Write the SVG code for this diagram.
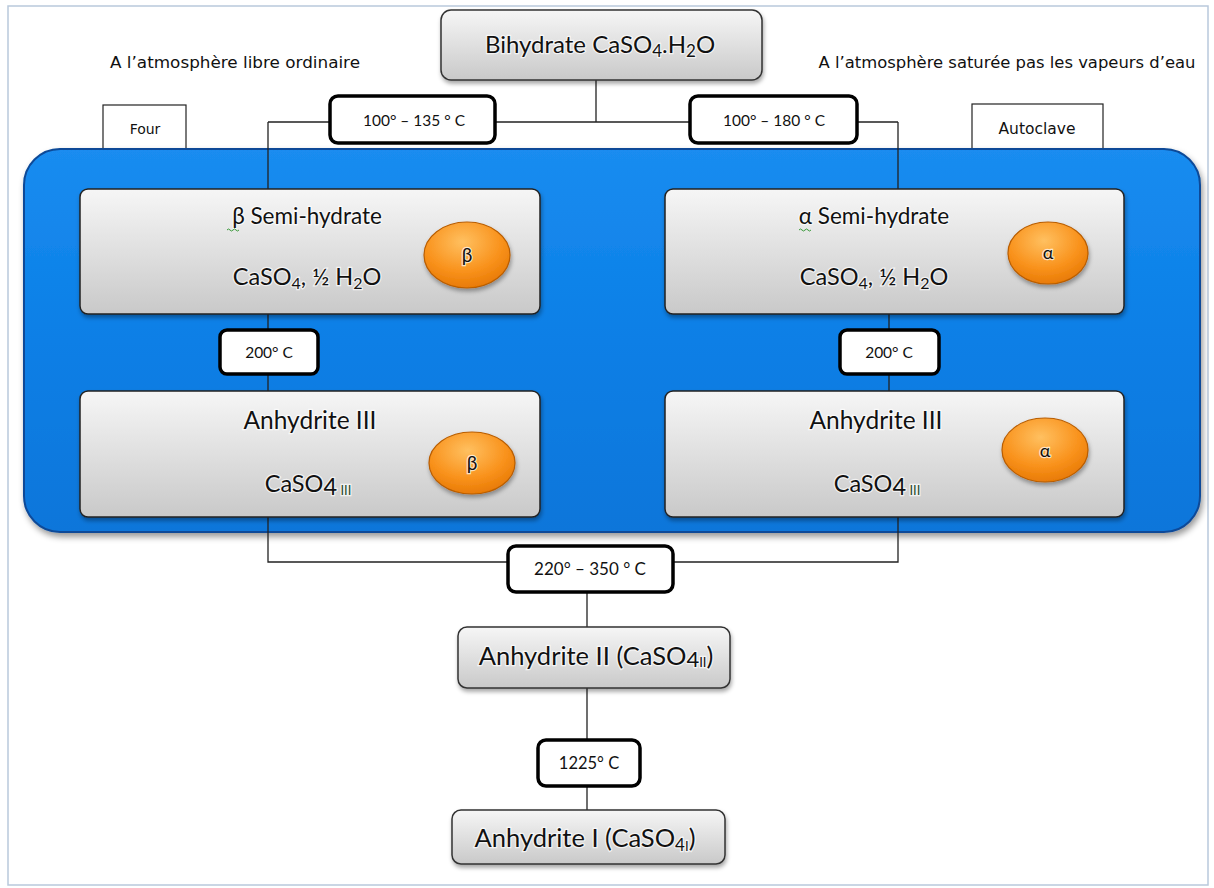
<svg xmlns="http://www.w3.org/2000/svg" width="1214" height="888" viewBox="0 0 1214 888">
<defs>
<linearGradient id="gray" x1="0" y1="0" x2="0" y2="1">
<stop offset="0" stop-color="#f6f6f6"/>
<stop offset="1" stop-color="#c9c9c9"/>
</linearGradient>
<linearGradient id="blue" x1="0" y1="0" x2="0" y2="1">
<stop offset="0" stop-color="#1a8cf0"/>
<stop offset="0.5" stop-color="#0a7fe6"/>
<stop offset="1" stop-color="#0a76da"/>
</linearGradient>
<radialGradient id="orange" cx="0.45" cy="0.3" r="0.75">
<stop offset="0" stop-color="#ffc060"/>
<stop offset="0.6" stop-color="#f9921c"/>
<stop offset="1" stop-color="#e57600"/>
</radialGradient>
<filter id="sh" x="-10%" y="-10%" width="130%" height="140%">
<feDropShadow dx="1" dy="3" stdDeviation="2" flood-color="#000" flood-opacity="0.35"/>
</filter>
<filter id="shb" x="-5%" y="-5%" width="110%" height="115%">
<feDropShadow dx="2" dy="4" stdDeviation="3" flood-color="#000" flood-opacity="0.4"/>
</filter>
</defs>
<style>
.t{font-family:Lato,"Open Sans","Liberation Sans",sans-serif;fill:#111;text-anchor:middle;stroke:#fff;stroke-width:2.5;stroke-opacity:0.7;paint-order:stroke}
.s{font-family:"DejaVu Sans","Liberation Sans",sans-serif;fill:#111;text-anchor:middle}
.node{fill:url(#gray);stroke:#222;stroke-width:1.5;filter:url(#sh)}
.main{fill:url(#gray);stroke:#333;stroke-width:1.5;filter:url(#sh)}
.lbl{fill:#fff;stroke:#000;stroke-width:3.5}
.thin{fill:#fff;stroke:#222;stroke-width:1.2}
.ell{fill:url(#orange);stroke:#b95d00;stroke-width:1.2;filter:url(#sh)}
.con{fill:none;stroke:#222;stroke-width:1.3}
.sq{fill:none;stroke:#3a9a3a;stroke-width:1}
</style>
<rect x="8" y="6" width="1200" height="879" fill="#fff" stroke="#b9c9dc" stroke-width="1.5"/>

<g id="atmo-left"><text class="s" x="235" y="68" font-size="15" textLength="250" lengthAdjust="spacingAndGlyphs">A l’atmosphère libre ordinaire</text></g>
<g id="atmo-right"><text class="s" x="1007" y="68" font-size="15" textLength="377" lengthAdjust="spacingAndGlyphs">A l’atmosphère saturée pas les vapeurs d’eau</text></g>

<g id="four"><rect class="thin" x="103" y="105" width="83" height="46"/><text class="s" x="145" y="134" font-size="14">Four</text></g>
<g id="autoclave"><rect class="thin" x="972" y="104" width="131" height="47"/><text class="s" x="1037" y="134" font-size="15.5">Autoclave</text></g>

<g id="panel"><rect x="24" y="149" width="1176" height="383" rx="36" fill="url(#blue)" stroke="#0a4a98" stroke-width="2" filter="url(#shb)"/></g>

<g id="connectors">
<path class="con" d="M596 80V122M268 122H898M268 122V189M898 122V189"/>
<path class="con" d="M268 314V391M889 314V391M268 517V562H898V517M587 562V627M587 688V810"/>
</g>

<g id="bihydrate"><rect class="main" x="441" y="10" width="321" height="70" rx="10"/>
<text class="t" x="600" y="53" font-size="24">Bihydrate CaSO<tspan font-size="17" dy="4">4</tspan><tspan dy="-4">.H</tspan><tspan font-size="17" dy="4">2</tspan><tspan dy="-4">O</tspan></text></g>

<g id="lbl-100-135"><rect class="lbl" x="330" y="96" width="165" height="47" rx="8"/><text class="t" x="414" y="126" font-size="15.5">100° – 135 ° C</text></g>
<g id="lbl-100-180"><rect class="lbl" x="690" y="96" width="167" height="47" rx="8"/><text class="t" x="774" y="126" font-size="15.5">100° – 180 ° C</text></g>

<g id="beta-semi"><rect class="node" x="80" y="189" width="460" height="125" rx="8"/>
<text class="t" x="307" y="224" font-size="22.5">β Semi-hydrate</text>
<path class="sq" d="M227 230q1.5-2 3 0t3 0t3 0t3 0"/>
<text class="t" x="307" y="285" font-size="23.5">CaSO<tspan font-size="16" dy="4">4</tspan><tspan dy="-4">, ½ H</tspan><tspan font-size="16" dy="4">2</tspan><tspan dy="-4">O</tspan></text>
<ellipse class="ell" cx="467" cy="255" rx="43" ry="33"/><text class="t" x="467" y="262" font-size="19">β</text></g>

<g id="alpha-semi"><rect class="node" x="665" y="189" width="459" height="125" rx="8"/>
<text class="t" x="874" y="224" font-size="22.5">α Semi-hydrate</text>
<path class="sq" d="M799 230q1.5-2 3 0t3 0t3 0t3 0"/>
<text class="t" x="874" y="285" font-size="23.5">CaSO<tspan font-size="16" dy="4">4</tspan><tspan dy="-4">, ½ H</tspan><tspan font-size="16" dy="4">2</tspan><tspan dy="-4">O</tspan></text>
<ellipse class="ell" cx="1048" cy="253" rx="40" ry="31"/><text class="t" x="1048" y="259" font-size="18">α</text></g>

<g id="lbl-200-left"><rect class="lbl" x="220" y="330" width="98" height="44" rx="7"/><text class="t" x="269" y="358" font-size="15.5">200° C</text></g>
<g id="lbl-200-right"><rect class="lbl" x="840" y="330" width="99" height="44" rx="7"/><text class="t" x="889" y="358" font-size="15.5">200° C</text></g>

<g id="beta-anh3"><rect class="node" x="80" y="391" width="460" height="126" rx="8"/>
<text class="t" x="310" y="429" font-size="24.5">Anhydrite III</text>
<text class="t" x="308" y="492" font-size="23.5">CaSO<tspan dy="3">4</tspan><tspan font-size="13" fill="#2a4a2a"> III</tspan></text>
<ellipse class="ell" cx="472" cy="463" rx="43" ry="31"/><text class="t" x="472" y="470" font-size="19">β</text></g>

<g id="alpha-anh3"><rect class="node" x="665" y="391" width="459" height="126" rx="8"/>
<text class="t" x="876" y="429" font-size="24.5">Anhydrite III</text>
<text class="t" x="877" y="492" font-size="23.5">CaSO<tspan dy="3">4</tspan><tspan font-size="13" fill="#2a4a2a"> III</tspan></text>
<ellipse class="ell" cx="1045" cy="450" rx="43" ry="32"/><text class="t" x="1045" y="457" font-size="18">α</text></g>

<g id="lbl-220-350"><rect class="lbl" x="508" y="546" width="165" height="46" rx="8"/><text class="t" x="590" y="575" font-size="17">220° – 350 ° C</text></g>

<g id="anh2"><rect class="main" x="458" y="627" width="272" height="61" rx="9"/>
<text class="t" x="596" y="665" font-size="25.5">Anhydrite II (CaSO<tspan font-size="22" dy="2">4</tspan><tspan font-size="13">II</tspan><tspan dy="-2">)</tspan></text></g>

<g id="lbl-1225"><rect class="lbl" x="538" y="740" width="102" height="46" rx="8"/><text class="t" x="589" y="769" font-size="16.5">1225° C</text></g>

<g id="anh1"><rect class="main" x="452" y="810" width="273" height="54" rx="9"/>
<text class="t" x="585" y="847" font-size="25.5">Anhydrite I (CaSO<tspan font-size="17" dy="4">4</tspan><tspan font-size="13">I</tspan><tspan dy="-4">)</tspan></text></g>
</svg>
